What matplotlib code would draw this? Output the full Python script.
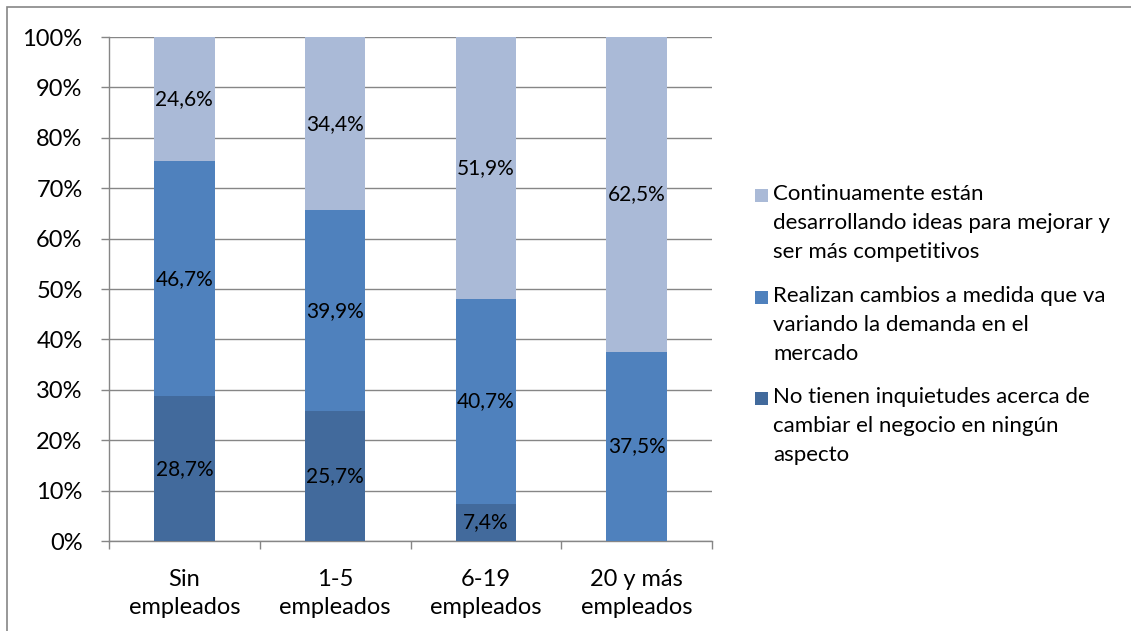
import numpy as np
import matplotlib.pyplot as plt
from matplotlib.patches import Rectangle

# Datos (porcentajes)
categorias = ["Sin\nempleados", "1-5\nempleados", "6-19\nempleados", "20 y más\nempleados"]
no_inquietudes = [28.7, 25.7, 7.4, 0.0]
realizan_cambios = [46.7, 39.9, 40.7, 37.5]
continuamente = [24.6, 34.4, 51.9, 62.5]

series = [
    ("No tienen inquietudes acerca de\ncambiar el negocio en ningún\naspecto", no_inquietudes, "#426A9C"),
    ("Realizan cambios a medida que va\nvariando la demanda en el\nmercado", realizan_cambios, "#4F81BD"),
    ("Continuamente están\ndesarrollando ideas para mejorar y\nser más competitivos", continuamente, "#AABAD7"),
]

plt.rcParams["font.family"] = ["Lato", "DejaVu Sans"]

W, H = 1131, 631
fig = plt.figure(figsize=(W / 100, H / 100), dpi=100)
ax = fig.add_axes([109 / W, 1 - 541 / H, (712 - 109) / W, (541 - 37) / H])

x = np.arange(len(categorias))
bottom = np.zeros(len(categorias))
for nombre, valores, color in series:
    valores = np.array(valores)
    ax.bar(x, valores, width=0.4, bottom=bottom, color=color, label=nombre, zorder=3)
    for xi, b, v in zip(x, bottom, valores):
        if v > 0:
            ax.text(xi, b + v / 2, f"{v:.1f}%".replace(".", ","), ha="center", va="center",
                    fontsize=15, color="black", zorder=4)
    bottom += valores

ax.set_xlim(-0.5, len(categorias) - 0.5)
ax.set_ylim(0, 100)
ax.set_yticks(np.arange(0, 101, 10))
ax.set_yticklabels([f"{v}%" for v in range(0, 101, 10)], fontsize=17)
ax.grid(axis="y", color="#868686", linewidth=1, zorder=0)

ax.set_xticks(x)
ax.set_xticklabels(categorias, fontsize=17, linespacing=1.4)
ax.set_xticks(np.arange(-0.5, len(categorias)), minor=True)
ax.tick_params(axis="x", which="major", length=0, pad=20)
ax.tick_params(axis="x", which="minor", length=6, color="#868686", width=1)
ax.tick_params(axis="y", length=6, color="#868686", width=1, pad=13)

for s in ["top", "right"]:
    ax.spines[s].set_visible(False)
for s in ["left", "bottom"]:
    ax.spines[s].set_color("#868686")
    ax.spines[s].set_linewidth(1)

# Leyenda (orden inverso, como en Excel), cuadro alineado con la primera línea
baselines = [200, 302, 403]
salto = 29
for (nombre, valores, color), yb in zip(series[::-1], baselines):
    fig.add_artist(Rectangle((755 / W, 1 - (yb + 2) / H), 13 / W, 13 / H,
                             transform=fig.transFigure, facecolor=color, edgecolor="none"))
    n = nombre.count("\n")
    fig.text(773 / W, 1 - (yb + n * salto) / H, nombre, ha="left", va="baseline",
             fontsize=16, linespacing=1.56)

# Borde del área del gráfico
fig.add_artist(Rectangle((7 / W, -0.1), 1.2, 1 - 7 / H + 0.1, transform=fig.transFigure,
                         fill=False, edgecolor="#868686", linewidth=1.2))

fig.savefig("out.png", dpi=100)
